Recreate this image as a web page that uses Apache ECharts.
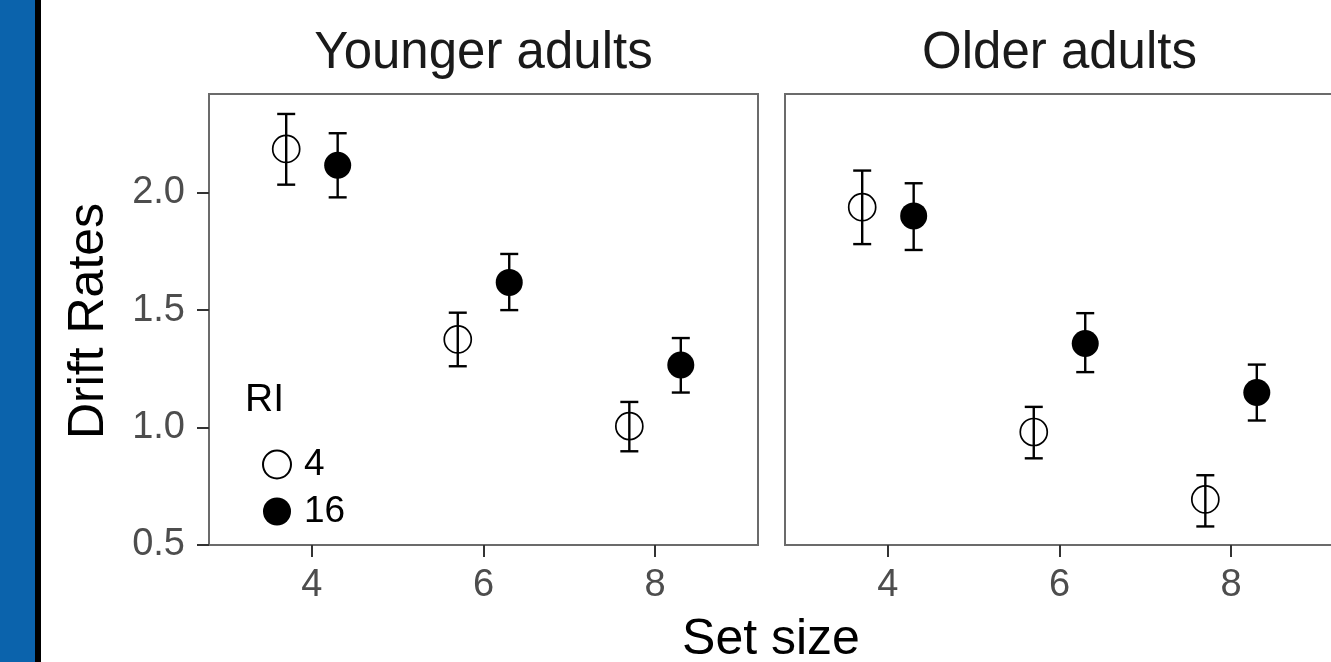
<!DOCTYPE html>
<html>
<head>
<meta charset="utf-8">
<script src="https://cdn.jsdelivr.net/npm/echarts@6/dist/echarts.min.js"></script>
<style>
html,body{margin:0;padding:0;background:#fff;}
#chart{width:1331px;height:662px;}
</style>
</head>
<body>
<div id="chart"></div>
<script>
// ---- data ----
const panels = ['Younger adults', 'Older adults'];
const setSizes = [4, 6, 8];
const riLevels = ['4', '16'];
const xTicks = [4, 6, 8];
const yTicks = [0.5, 1.0, 1.5, 2.0];

const youngRI4Mean = [2.186, 1.375, 1.006];
const youngRI4Low  = [2.034, 1.261, 0.899];
const youngRI4High = [2.335, 1.489, 1.109];
const youngRI16Mean = [2.117, 1.618, 1.266];
const youngRI16Low  = [1.980, 1.500, 1.149];
const youngRI16High = [2.253, 1.739, 1.381];

const oldRI4Mean = [1.938, 0.981, 0.694];
const oldRI4Low  = [1.781, 0.869, 0.579];
const oldRI4High = [2.094, 1.088, 0.797];
const oldRI16Mean = [1.901, 1.358, 1.149];
const oldRI16Low  = [1.756, 1.236, 1.030];
const oldRI16High = [2.040, 1.487, 1.268];

const dodge = 0.3;

// ---- build ----
const FONT = '"Liberation Sans", Arial, Helvetica, sans-serif';
const panelData = [
  {ri4: [youngRI4Mean, youngRI4Low, youngRI4High], ri16: [youngRI16Mean, youngRI16Low, youngRI16High]},
  {ri4: [oldRI4Mean, oldRI4Low, oldRI4High], ri16: [oldRI16Mean, oldRI16Low, oldRI16High]}
];

function pts(mean, off) { return setSizes.map((s, i) => [s + off, mean[i]]); }
function bars(arr, off) { return setSizes.map((s, i) => [s + off, arr[1][i], arr[2][i]]); }

function errorRender(params, api) {
  const x = api.value(0);
  const lo = api.coord([x, api.value(1)]);
  const hi = api.coord([x, api.value(2)]);
  const hw = 9;
  const st = {stroke: '#000', lineWidth: 2.4};
  return {
    type: 'group',
    children: [
      {type: 'line', shape: {x1: lo[0], y1: lo[1], x2: hi[0], y2: hi[1]}, style: st},
      {type: 'line', shape: {x1: lo[0] - hw, y1: lo[1], x2: lo[0] + hw, y2: lo[1]}, style: st},
      {type: 'line', shape: {x1: hi[0] - hw, y1: hi[1], x2: hi[0] + hw, y2: hi[1]}, style: st}
    ]
  };
}

const grids = [
  {left: 209, top: 94, width: 549, height: 451},
  {left: 785, top: 94, width: 549, height: 451}
].map(g => Object.assign(g, {show: true, borderColor: '#6b6b6b', borderWidth: 2, backgroundColor: '#fff',
  containLabel: false, outerBoundsMode: 'none'}));

const xAxes = [0, 1].map(i => ({
  type: 'value', gridIndex: i, min: 2.8, max: 9.2,
  axisLine: {show: false},
  splitLine: {show: false},
  axisTick: {show: true, customValues: xTicks, length: 12, lineStyle: {color: '#333', width: 2}},
  axisLabel: {show: true, customValues: xTicks, margin: 22, fontSize: 38, color: '#4d4d4d', fontFamily: FONT}
}));

const yAxes = [0, 1].map(i => ({
  type: 'value', gridIndex: i, min: 0.5, max: 2.42,
  axisLine: {show: false},
  splitLine: {show: false},
  axisTick: {show: i === 0, customValues: yTicks, length: 12, lineStyle: {color: '#333', width: 2}},
  axisLabel: {show: i === 0, customValues: yTicks, margin: 24, fontSize: 38, color: '#4d4d4d', fontFamily: FONT,
    formatter: v => v.toFixed(1)}
}));

const series = [];
panelData.forEach((pd, i) => {
  series.push({type: 'custom', xAxisIndex: i, yAxisIndex: i, renderItem: errorRender, data: bars(pd.ri4, -dodge), z: 2, silent: true});
  series.push({type: 'custom', xAxisIndex: i, yAxisIndex: i, renderItem: errorRender, data: bars(pd.ri16, dodge), z: 2, silent: true});
  series.push({name: riLevels[0], type: 'scatter', xAxisIndex: i, yAxisIndex: i, symbol: 'circle', symbolSize: 27,
    itemStyle: {color: 'rgba(255,255,255,0)', borderColor: '#000', borderWidth: 1.7, opacity: 1}, data: pts(pd.ri4[0], -dodge), z: 3});
  series.push({name: riLevels[1], type: 'scatter', xAxisIndex: i, yAxisIndex: i, symbol: 'circle', symbolSize: 27,
    itemStyle: {color: '#000', opacity: 1}, data: pts(pd.ri16[0], dodge), z: 3});
});

const option = {
  animation: false,
  backgroundColor: '#fff',
  grid: grids,
  xAxis: xAxes,
  yAxis: yAxes,
  legend: {
    data: riLevels, orient: 'vertical', left: 257, top: 441,
    itemWidth: 28, itemHeight: 28, itemGap: 10,
    icon: 'circle',
    textStyle: {fontSize: 37, color: '#000', fontFamily: FONT, padding: [0, 0, 0, 8]},
    selectedMode: false
  },
  graphic: [
    {type: 'rect', shape: {x: 0, y: 0, width: 35, height: 662}, style: {fill: '#0b63ac'}, z: 10},
    {type: 'rect', shape: {x: 35, y: 0, width: 6, height: 662}, style: {fill: '#000'}, z: 10},
    {type: 'text', x: 483.5, y: 54, style: {text: panels[0], font: '51px ' + FONT, fill: '#1a1a1a', align: 'center', verticalAlign: 'middle'}},
    {type: 'text', x: 1059.5, y: 54, style: {text: panels[1], font: '51px ' + FONT, fill: '#1a1a1a', align: 'center', verticalAlign: 'middle'}},
    {type: 'text', x: 771, y: 640, style: {text: 'Set size', font: '50px ' + FONT, fill: '#000', align: 'center', verticalAlign: 'middle'}},
    {type: 'text', x: 89.5, y: 321, rotation: Math.PI / 2, style: {text: 'Drift Rates', font: '50px ' + FONT, fill: '#000', align: 'center', verticalAlign: 'middle'}},
    {type: 'text', x: 245, y: 400, style: {text: 'RI', font: '39px ' + FONT, fill: '#000', align: 'left', verticalAlign: 'middle'}, z: 10}
  ],
  series: series
};

const chart = echarts.init(document.getElementById('chart'), null, {renderer: 'canvas'});
chart.setOption(option);
</script>
</body>
</html>
